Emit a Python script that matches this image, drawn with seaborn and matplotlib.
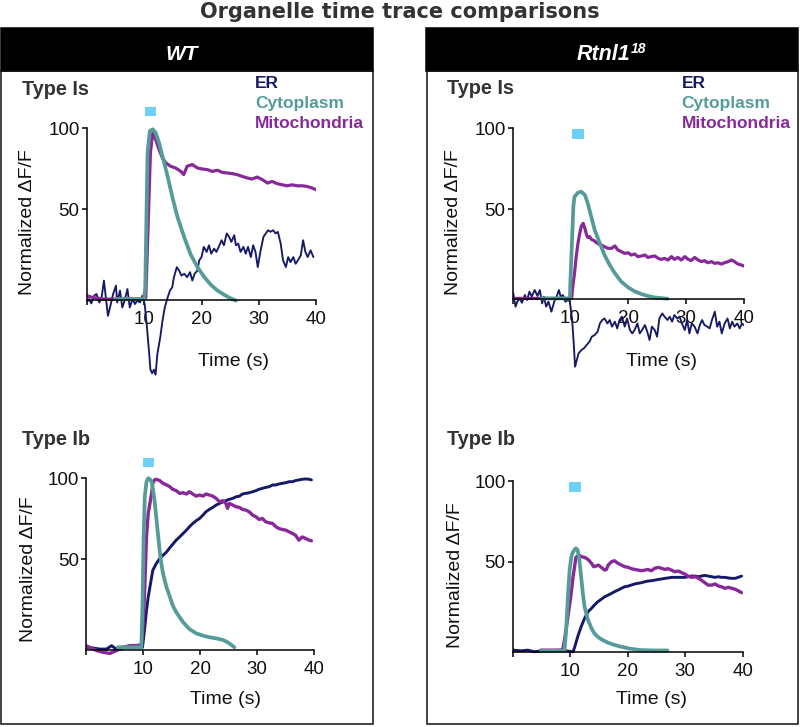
import matplotlib
matplotlib.use("Agg")
import matplotlib.pyplot as plt
from matplotlib.patches import Rectangle
import seaborn as sns

# ---------------- data (time in s, normalized dF/F) ----------------
# WT, Type Is
WT_IS_ER_T = [0, 0.4, 0.8, 1.3, 1.7, 2.2, 2.6, 3.0, 3.4, 3.7, 4.2, 4.6, 5.1, 5.3, 5.8, 6.2, 6.6, 7.1, 7.5, 8.0, 8.4, 8.8, 9.3, 9.7,
              10.1, 10.5, 10.9, 11.1, 11.4, 11.7, 12.0, 12.3, 12.8, 13.2, 13.6, 14.1, 14.5,
              14.9, 15.2, 15.7, 16.1, 16.5, 17.0, 17.5, 18.0, 18.4, 18.8, 19.3,
              19.6, 20.0, 20.4, 20.9, 21.3, 21.7, 22.2, 22.6, 23.0, 23.5, 23.9, 24.4, 24.8, 25.2, 25.7, 26.0, 26.4, 26.8, 27.3, 27.7, 28.1, 28.6, 29.0, 29.4, 29.8,
              30.3, 30.8, 31.2, 31.6, 32.0, 32.5, 32.9, 33.3, 33.8, 34.2, 34.7, 35.1, 35.5, 36.0, 36.4, 36.8, 37.3, 37.7, 38.1, 38.5, 39.0, 39.5]
WT_IS_ER_V = [-7.5, -5.4, -8.1, -3.3, -2.3, -7.5, -4.4, 6.0, -6.4, -15.8, -8.5, -2.3, 2.9, -7.5, -0.2, -10.6, -6.4, 0.8, -10.6, -5.4, -8.5, -6.4, -7.5, -3.3,
              -8.5, -23.0, -39.6, -49.0, -51.2, -49.0, -52.1, -39.6, -29.3, -18.9, -10.6, -4.4, -0.2,
              1.9, 8.1, 14.3, 12.2, 9.1, 10.2, 8.1, 11.2, 6.0, 10.2, 12.2,
              18.5, 20.5, 26.8, 23.7, 27.8, 22.6, 25.7, 23.7, 26.8, 30.9, 27.8, 35.1, 33.0, 29.9, 34.0, 27.8, 28.8, 23.7, 26.8, 22.6, 26.8, 20.5, 27.8, 23.7, 14.3,
              24.7, 33.0, 35.1, 37.1, 36.1, 37.1, 35.1, 36.1, 28.8, 18.5, 14.3, 20.5, 17.4, 20.5, 16.4, 18.5, 21.6, 30.9, 23.7, 20.5, 24.7, 20.5]
WT_IS_MITO_T = [0, 1.0, 3.0, 5.0, 7.0, 9.0, 10.0, 10.3, 10.7, 11.1, 11.5, 12.0, 12.6, 13.2, 13.8, 14.6, 15.5, 16.4, 16.9, 17.5, 18.4,
                19.3, 20.1, 21.0, 21.9, 22.8, 23.6, 24.5, 25.4, 26.2, 27.1, 28.0, 28.8, 29.7, 30.6, 31.5, 32.3, 33.2, 34.1, 34.9, 35.8,
                36.7, 37.6, 38.4, 39.3, 40.0]
WT_IS_MITO_V = [-3.3, -4.4, -5.4, -5.4, -5.4, -5.4, -5.4, -4.4, 40.0, 85.0, 97.3, 93.2, 86.9, 81.7, 78.6, 76.6, 75.5, 73.4, 71.4, 76.6, 77.6,
                75.5, 74.9, 74.5, 73.4, 74.1, 72.8, 72.4, 72.0, 71.4, 70.3, 69.3, 68.7, 69.9, 68.3, 66.2, 67.2, 65.8, 65.1, 64.5, 65.1,
                64.5, 64.5, 64.1, 63.1, 62.0]
WT_IS_CYTO_T = [5.0, 10.0, 10.2, 10.6, 11.0, 11.5, 12.0, 12.6, 13.2, 14.1, 14.9, 15.8, 17.0, 18.1, 19.3, 20.5, 21.6, 22.8, 24.0, 25.1, 26.0]
WT_IS_CYTO_V = [-5.4, -5.4, 1.9, 84.9, 98.3, 99.4, 97.3, 91.1, 82.8, 70.3, 57.9, 45.4, 32.6, 22.2, 14.3, 8.1, 3.5, -0.2, -2.9, -5.0, -6.4]

# WT, Type Ib
WT_IB_ER_T = [0, 1.3, 2.4, 3.6, 4.5, 5.1, 5.9, 7.1, 8.3, 9.4, 9.9, 10.3, 10.6, 10.9, 11.2, 11.5, 11.7, 12.0, 12.3, 12.9,
              13.5, 14.1, 14.7, 15.2, 15.8, 16.4, 17.0, 17.6, 18.1, 18.7, 19.3, 19.9, 20.5, 21.0, 21.6, 22.2, 22.8, 23.4, 24.0, 24.5,
              25.1, 25.7, 26.3, 26.9, 27.4, 28.0, 28.6, 29.2, 29.8, 30.3, 30.9, 31.5, 32.1, 32.7, 33.3, 33.8, 34.4, 35.0, 35.6, 36.2,
              36.7, 37.3, 37.9, 38.5, 39.1, 39.5]
WT_IB_ER_V = [-4.3, -4.8, -5.4, -5.4, -3.3, -5.0, -4.8, -4.3, -3.9, -3.9, -4.3, 8.1, 18.4, 26.7, 32.9, 39.0, 43.2, 45.2, 47.3, 50.4,
              52.5, 54.5, 57.2, 59.3, 61.8, 63.8, 65.9, 68.0, 70.0, 72.1, 73.8, 75.2, 77.3, 79.3, 80.8, 82.0, 83.5, 84.5, 85.5, 86.2,
              87.0, 87.6, 88.6, 89.0, 90.3, 90.7, 91.1, 91.7, 92.4, 93.2, 93.8, 94.4, 94.8, 95.9, 95.9, 96.5, 96.9, 97.3, 97.9, 97.9,
              98.6, 99.0, 99.4, 99.6, 99.4, 99.0]
WT_IB_MITO_T = [0, 1.9, 3.0, 4.2, 5.3, 6.5, 7.7, 8.8, 9.7, 10.0, 10.3, 10.6, 10.9, 11.2, 11.5, 11.7, 12.0, 12.3, 12.9,
                13.5, 14.1, 14.7, 15.2, 15.8, 16.4, 17.0, 17.6, 18.1, 18.7, 19.3, 19.9, 20.5, 21.0, 21.6, 22.2, 22.8, 23.4, 24.0, 24.5,
                24.8, 25.1, 25.7, 26.3, 26.9, 27.4, 28.0, 28.6, 29.2, 29.8, 30.3, 30.9, 31.5, 32.1, 32.7, 33.3, 33.8, 34.4, 35.0, 35.6,
                36.2, 36.7, 37.3, 37.9, 38.5, 39.1, 39.5]
WT_IB_MITO_V = [-3.3, -6.4, -7.4, -8.1, -6.4, -4.3, -3.3, -3.3, -2.7, 8.1, 32.9, 63.8, 78.3, 84.5, 90.7, 96.9, 99.0, 99.4, 98.6,
                96.9, 95.9, 94.8, 93.2, 92.4, 90.7, 91.1, 90.3, 91.7, 90.3, 89.0, 89.7, 89.0, 90.3, 89.7, 89.0, 87.6, 85.5, 86.2, 84.5,
                81.4, 84.5, 83.5, 82.4, 82.0, 80.8, 80.4, 79.3, 77.3, 76.2, 74.6, 75.2, 73.1, 72.5, 72.1, 70.0, 69.0, 68.4, 68.0, 66.9,
                65.9, 64.9, 61.8, 63.8, 62.8, 61.8, 61.4]
WT_IB_CYTO_T = [5.6, 9.7, 9.9, 10.1, 10.3, 10.6, 10.9, 11.2, 11.5, 11.7, 12.0, 12.3, 12.6, 12.9, 13.2, 13.5, 14.1, 14.7, 15.2, 15.8,
                16.4, 17.0, 18.1, 19.3, 20.5, 21.6, 22.8, 24.0, 24.8, 25.4, 26.0]
WT_IB_CYTO_V = [-4.3, -4.3, 22.5, 63.8, 88.6, 97.9, 100.0, 99.4, 97.9, 93.8, 86.6, 76.2, 65.9, 55.6, 47.3, 41.1, 32.9, 26.7, 21.5, 17.4,
                14.3, 11.2, 7.0, 4.3, 2.9, 1.9, 1.2, 0.2, -1.2, -2.7, -4.3]

# Rtnl1^18, Type Is
RT_IS_ER_T = [0.1, 0.5, 0.8, 1.2, 1.6, 2.1, 2.5, 2.9, 3.3, 3.8, 4.3, 4.7, 5.1, 5.4, 5.8, 6.2, 6.7, 7.2, 7.6, 8.0,
              8.3, 8.7, 9.1, 9.6, 9.9, 10.3, 10.6, 10.8, 11.1, 11.4, 11.9, 12.3, 12.8, 13.3, 13.7, 14.2, 14.7, 15.1, 15.5, 15.9,
              16.4, 16.8, 17.2, 17.7, 18.1, 18.5, 18.9, 19.4, 19.8, 20.3, 20.7, 21.1, 21.6, 22.0, 22.4, 22.9, 23.3, 23.7, 24.1, 24.6,
              25.0, 25.4, 25.9, 26.3, 26.8, 27.2, 27.6, 28.0, 28.5, 28.9, 29.3, 29.8, 30.2, 30.6, 31.0, 31.5, 32.0, 32.4, 32.8, 33.2,
              33.7, 34.1, 34.5, 35.0, 35.4, 35.8, 36.2, 36.7, 37.2, 37.6, 38.0, 38.4, 38.9, 39.3, 39.7, 40.0]
RT_IS_ER_V = [-2.3, -10.5, -7.4, -5.4, -8.1, -3.3, -6.4, -1.2, -4.3, -0.2, -3.9, -0.2, -8.5, -4.3, -10.5, -7.4, -13.6, -7.4, -4.3, -0.2,
              -4.3, -3.3, -7.4, -6.4, -7.4, -18.8, -35.3, -47.7, -43.6, -39.5, -37.4, -36.4, -34.3, -32.2, -29.1, -28.1, -26.0, -20.9, -18.8, -17.8,
              -20.9, -18.8, -22.9, -19.8, -24.0, -18.8, -16.7, -22.9, -17.8, -25.0, -27.1, -25.0, -20.9, -27.1, -25.0, -21.9, -26.0, -31.2, -22.9, -25.0,
              -29.1, -17.8, -14.7, -16.7, -18.8, -16.7, -19.8, -15.7, -17.8, -16.7, -20.9, -25.0, -18.8, -27.1, -20.9, -22.9, -27.1, -21.9, -18.8, -21.9,
              -22.9, -24.0, -18.8, -13.6, -22.9, -19.8, -27.1, -20.9, -17.8, -24.0, -19.8, -22.9, -20.9, -24.0, -20.9, -21.9]
RT_IS_MITO_T = [0, 5, 10.0, 10.2, 10.4, 10.7, 11.0, 11.3, 11.6, 11.9, 12.2, 12.5, 12.8, 13.0, 13.3, 13.6, 14.1, 14.5, 14.9, 15.3,
                15.9, 16.5, 17.1, 17.7, 18.2, 18.8, 19.4, 20.0, 20.5, 21.1, 21.7, 22.3, 22.9, 23.4, 24.0, 24.6, 25.2, 25.7, 26.3, 26.9,
                27.5, 28.0, 28.6, 29.2, 29.8, 30.4, 30.9, 31.5, 32.1, 32.7, 33.2, 33.8, 34.4, 35.0, 35.5, 36.1, 36.7, 37.3, 37.9, 38.4,
                39.0, 39.6, 40.0]
RT_IS_MITO_V = [-5.4, -5.4, -5.4, -5.4, 1.9, 10.1, 20.5, 28.7, 34.9, 39.5, 41.1, 38.0, 33.9, 32.4, 32.9, 31.2, 30.4, 29.1, 28.3, 27.7,
                26.7, 25.6, 25.6, 27.1, 24.6, 23.6, 22.5, 22.9, 21.5, 22.1, 20.5, 20.9, 21.5, 20.0, 20.5, 20.9, 19.4, 18.8, 19.4, 18.4,
                20.5, 18.8, 20.0, 18.4, 20.5, 18.8, 18.0, 20.0, 18.4, 17.4, 18.0, 16.7, 17.4, 16.3, 16.7, 15.9, 16.7, 17.4, 18.4, 17.4,
                15.9, 15.3, 14.7]
RT_IS_CYTO_T = [5.0, 9.9, 10.0, 10.3, 10.5, 10.7, 11.3, 11.9, 12.5, 13.0, 13.6, 14.2, 15.1, 15.9, 16.8, 17.7, 18.8, 20.0, 21.1, 22.3,
                23.4, 24.6, 25.7, 26.8]
RT_IS_CYTO_V = [-5.4, -5.4, 6.0, 32.9, 51.4, 57.6, 60.1, 60.7, 58.7, 53.5, 45.2, 37.0, 28.7, 21.5, 15.3, 10.1, 5.0, 1.4, -1.0, -2.7,
                -3.9, -4.8, -5.2, -5.6]

# Rtnl1^18, Type Ib
RT_IB_ER_T = [0, 1.5, 2.6, 3.8, 4.9, 6.7, 8.4, 10.5, 10.8, 11.3, 11.9, 12.5, 13.1, 13.7, 14.2, 14.8, 15.4, 16.0,
              16.6, 17.2, 17.7, 18.3, 18.9, 19.5, 20.1, 20.6, 21.2, 21.8, 22.4, 23.0, 23.5, 24.1, 24.7, 25.3, 25.9, 26.5, 27.0, 27.6,
              28.2, 28.8, 29.4, 29.9, 30.5, 31.1, 31.7, 32.3, 32.8, 33.4, 34.0, 34.6, 35.2, 35.8, 36.3, 36.9, 37.5, 38.1, 38.7, 39.2, 39.8]
RT_IB_ER_V = [-4.8, -5.2, -4.8, -5.8, -5.2, -5.2, -4.8, -5.8, -2.7, 3.5, 9.7, 14.9, 19.0, 21.1, 23.1, 25.2, 26.7, 28.3,
              29.3, 30.4, 31.4, 32.4, 33.5, 34.5, 34.9, 35.5, 36.2, 36.6, 37.0, 37.6, 38.0, 38.2, 38.6, 39.0, 39.3, 39.7, 39.9, 40.3,
              40.3, 40.3, 40.3, 40.3, 40.7, 41.1, 41.1, 40.7, 41.1, 41.5, 41.1, 40.7, 40.3, 40.7, 40.3, 40.3, 39.9, 39.7, 39.7, 40.3, 41.1]
RT_IB_MITO_T = [4.9, 8.7, 9.0, 9.6, 10.1, 10.5, 10.8, 11.0, 11.3, 11.6, 11.9, 12.5, 13.1, 13.7, 14.1, 14.5, 14.9, 15.4, 16.0, 16.3,
                16.6, 17.2, 17.7, 18.3, 18.9, 19.5, 20.1, 20.6, 21.2, 21.8, 22.4, 23.0, 23.5, 24.1, 24.7, 25.3, 25.9, 26.5, 27.0, 27.6,
                28.2, 28.8, 29.4, 29.9, 30.5, 31.1, 31.7, 32.3, 32.8, 33.4, 34.0, 34.6, 35.2, 35.8, 36.3, 36.9, 37.5, 38.1, 38.7, 39.2, 39.8]
RT_IB_MITO_V = [-4.8, -4.8, 1.4, 15.9, 28.3, 40.7, 47.9, 52.7, 53.5, 54.1, 53.1, 52.7, 51.4, 49.0, 46.9, 47.3, 47.9, 46.5, 44.8, 45.2,
                47.9, 50.0, 50.6, 49.0, 47.9, 46.9, 46.5, 45.7, 45.2, 44.8, 44.4, 44.8, 45.2, 44.4, 45.9, 46.5, 45.9, 45.2, 45.7, 44.8,
                43.8, 44.2, 43.2, 42.4, 41.1, 40.3, 40.7, 39.7, 38.6, 37.0, 35.5, 35.5, 36.2, 34.9, 34.5, 33.5, 34.1, 33.5, 32.9, 32.0, 30.8]
RT_IB_CYTO_T = [4.9, 9.0, 9.3, 9.6, 9.9, 10.2, 10.5, 10.8, 11.0, 11.3, 11.6, 11.9, 12.2, 12.5, 13.1, 13.7, 14.2, 14.8, 15.4, 16.6,
                17.7, 18.9, 20.1, 21.2, 22.4, 24.7, 26.9]
RT_IB_CYTO_V = [-5.2, -5.2, 7.6, 28.3, 44.8, 53.1, 56.2, 57.6, 58.3, 57.2, 51.0, 40.7, 30.4, 22.1, 13.8, 8.7, 5.6, 3.5, 1.9, -0.2,
                -1.6, -2.7, -3.7, -4.3, -4.8, -5.0, -5.0]

# light-stimulus windows (start, end in s)
STIM_WT_IS = [10.2, 12.1]
STIM_RT_IS = [10.3, 12.3]
STIM_WT_IB = [10.0, 11.9]
STIM_RT_IB = [9.8, 11.8]

SERIES = ["ER", "Cytoplasm", "Mitochondria"]
XTICKS = [0, 10, 20, 30, 40]
XTICK_LABELS = ["", "10", "20", "30", "40"]
YTICKS = [50, 100]
YTICK_LABELS = ["50", "100"]
TITLE = "Organelle time trace comparisons"
YLABEL = "Normalized ΔF/F"
XLABEL = "Time (s)"

# ---------------- style ----------------
C_ER = "#161a66"
C_CYTO = "#559c98"
C_MITO = "#88299a"
C_STIM = "#6fd0f5"
COLORS = {"ER": C_ER, "Cytoplasm": C_CYTO, "Mitochondria": C_MITO}

W, H = 800, 727
sns.set_theme(style="ticks")
plt.rcParams['font.family'] = ['Liberation Sans', 'DejaVu Sans']

fig = plt.figure(figsize=(W / 100, H / 100), dpi=100)
fig.patch.set_facecolor("white")


def fx(x):
    return x / W


def fy(y):
    return 1 - y / H


# header bands and outline boxes
for (bx0, bx1) in [(0.5, 372.7), (426.5, 797.5)]:
    fig.add_artist(Rectangle((fx(bx0), fy(71)), (bx1 - bx0) / W, (71 - 28) / H,
                             transform=fig.transFigure, facecolor="black", edgecolor="black", lw=1.1))
    fig.add_artist(Rectangle((fx(bx0 + 0.5), fy(724)), (bx1 - bx0 - 0.5) / W, (724 - 71) / H,
                             transform=fig.transFigure, facecolor="none", edgecolor="#111111", lw=1.1))

fig.text(fx(400), fy(18.5), TITLE, ha="center", va="baseline", fontsize=15,
         fontweight="bold", color="#333333", family=["DejaVu Sans"])
fig.text(fx(182), fy(60), "WT", ha="center", va="baseline", fontsize=15,
         fontweight="bold", style="italic", color="white")
fig.text(fx(630), fy(60), "Rtnl1", ha="right", va="baseline", fontsize=15.5,
         fontweight="bold", style="italic", color="white")
fig.text(fx(631), fy(53), "18", ha="left", va="baseline", fontsize=10,
         fontweight="bold", style="italic", color="white")

AXIS_Y = -6.0


def make_axes(x0, x40, y100, y50, ylo, yhi):
    ppu = (y50 - y100) / 50.0
    ytop = y100 - (yhi - 100) * ppu
    ybot = y50 + (50 - ylo) * ppu
    ax = fig.add_axes([fx(x0), fy(ybot), (x40 - x0) / W, (ybot - ytop) / H])
    ax.patch.set_visible(False)
    return ax


panels = [
    dict(anchor=(86.7, 316.3, 128.3, 209.3), ylim=(-58, 118),
         er=(WT_IS_ER_T, WT_IS_ER_V, 1.35), mito=(WT_IS_MITO_T, WT_IS_MITO_V, 2.3),
         cyto=(WT_IS_CYTO_T, WT_IS_CYTO_V, 2.7), stim=STIM_WT_IS, stim_v=(107.4, 113.0),
         ylab=(28, 222), xlab=(234, 361), typ=("Type Is", 22, 95), leg=(255, 88)),
    dict(anchor=(512.7, 743.7, 128.3, 209.0), ylim=(-58, 118),
         er=(RT_IS_ER_T, RT_IS_ER_V, 1.35), mito=(RT_IS_MITO_T, RT_IS_MITO_V, 2.3),
         cyto=(RT_IS_CYTO_T, RT_IS_CYTO_V, 2.7), stim=STIM_RT_IS, stim_v=(93.2, 99.4),
         ylab=(454, 222), xlab=(662, 361), typ=("Type Is", 447, 94), leg=(681.7, 88)),
    dict(anchor=(86.0, 314.3, 478.3, 559.3), ylim=(-12, 118),
         er=(WT_IB_ER_T, WT_IB_ER_V, 2.1), mito=(WT_IB_MITO_T, WT_IB_MITO_V, 2.4),
         cyto=(WT_IB_CYTO_T, WT_IB_CYTO_V, 2.7), stim=STIM_WT_IB, stim_v=(107.2, 112.3),
         ylab=(29, 569), xlab=(226, 699), typ=("Type Ib", 22, 445), leg=None),
    dict(anchor=(512.7, 742.7, 481.0, 561.7), ylim=(-12, 118),
         er=(RT_IB_ER_T, RT_IB_ER_V, 2.1), mito=(RT_IB_MITO_T, RT_IB_MITO_V, 2.4),
         cyto=(RT_IB_CYTO_T, RT_IB_CYTO_V, 2.7), stim=STIM_RT_IB, stim_v=(93.4, 99.6),
         ylab=(456, 575), xlab=(652, 700), typ=("Type Ib", 447, 445), leg=None),
]

for p in panels:
    ylo, yhi = p["ylim"]
    ax = make_axes(*p["anchor"], ylo, yhi)
    for key, col in [("er", C_ER), ("mito", C_MITO), ("cyto", C_CYTO)]:
        t, v, lw = p[key]
        sns.lineplot(x=t, y=v, ax=ax, color=col, linewidth=lw, estimator=None,
                     sort=False, legend=False)
    s0, s1 = p["stim"]
    v0, v1 = p["stim_v"]
    ax.add_patch(Rectangle((s0, v0), s1 - s0, v1 - v0, facecolor=C_STIM,
                           edgecolor="none", clip_on=False, zorder=5))
    ax.set_xlim(0, 40)
    ax.set_ylim(ylo, yhi)
    ax.spines["top"].set_visible(False)
    ax.spines["right"].set_visible(False)
    ax.spines["bottom"].set_position(("data", AXIS_Y))
    ax.spines["bottom"].set_bounds(0, 40)
    ax.spines["left"].set_bounds(AXIS_Y, 100)
    for s in ["bottom", "left"]:
        ax.spines[s].set_linewidth(1.1)
        ax.spines[s].set_color("black")
    ax.set_xticks(XTICKS)
    ax.set_xticklabels(XTICK_LABELS)
    ax.set_yticks(YTICKS)
    ax.set_yticklabels(YTICK_LABELS)
    ax.tick_params(bottom=True, left=True, direction="out", length=3.6, width=1.1,
                   color="black", labelsize=13.5, labelcolor="#111111")
    ax.tick_params(axis="x", pad=4)
    ax.tick_params(axis="y", pad=1.5)
    ax.set_xlabel("")
    ax.set_ylabel("")

    fig.text(fx(p["ylab"][0]), fy(p["ylab"][1]), YLABEL, rotation=90, ha="center",
             va="center", fontsize=14, color="#111111")
    fig.text(fx(p["xlab"][0]), fy(p["xlab"][1]), XLABEL, ha="center", va="center",
             fontsize=14, color="#111111")
    name, tx, ty = p["typ"]
    fig.text(fx(tx), fy(ty), name, ha="left", va="baseline", fontsize=14.3,
             fontweight="bold", color="#333333")
    if p["leg"] is not None:
        lx, ly = p["leg"]
        for i, s in enumerate(SERIES):
            fig.text(fx(lx), fy(ly + 20 * i), s, ha="left", va="baseline", fontsize=12.5,
                     fontweight="bold", color=COLORS[s])

fig.savefig("out.png", dpi=100, facecolor="white")
